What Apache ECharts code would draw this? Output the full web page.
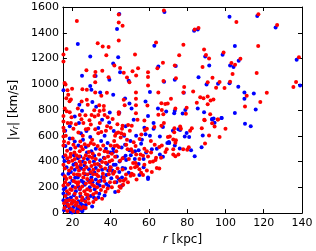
<!DOCTYPE html>
<html><head><meta charset="utf-8">
<script src="https://cdn.jsdelivr.net/npm/echarts@6/dist/echarts.min.js"></script>
<style>html,body{margin:0;padding:0;background:#fff}#c{width:316px;height:251px}</style>
</head><body><div id="c"></div>
<script>
const xTicks = [20, 40, 60, 80, 100, 120, 140];
const yTicks = [0, 200, 400, 600, 800, 1000, 1200, 1400, 1600];

const blueA = [[44.5,1545],[43.3,1430],[22.8,1312],[29.3,1215],[43.9,1210],[41.3,1161],[44.9,1094],[25,1067],[32.1,1064],[39.3,1035],[49.4,1027],[64.9,1139],[62.8,1299],[68.1,1561],[15.3,953],[29.9,958],[29.3,986],[34.5,936],[41.3,919],[60.5,941],[67.9,1020],[30.4,862],[32.4,825],[23.6,842],[47.5,889],[49.8,850],[58.2,867],[25,795],[39.5,781],[44.5,780],[50.9,813],[64.7,813],[69,788]];
const blueB = [[102.1,1524],[116.6,1531],[126.2,1440],[83.6,1415],[85.5,1425],[89.4,1215],[104.9,1297],[98.5,1230],[91.5,1146],[102.4,1146],[104.2,1134],[106.9,1183],[74,1141],[137.2,1190],[139,990],[85.9,1055],[73.5,1035],[90.1,998],[96.1,1005],[102.1,1008],[106.7,981],[78.2,934],[109.9,936],[114.8,929],[109.9,887],[115.8,805],[85.5,813],[79,800],[73.5,795],[73.2,776],[77.6,773],[88.8,783],[93,731],[94.3,701],[98,738],[104.9,778],[110.2,694]];
const blueC = [[97.9,739],[93.8,734],[93,726],[113.2,674],[79.7,622],[88.1,603],[81,590],[78.7,595],[76.3,645],[75.4,650],[72.5,640],[70.4,551],[73.5,524],[87.5,511],[82,487],[76.1,501],[83.9,442]];
const blueD = [[52,724],[59.5,754],[62.4,699],[62.4,655],[67.3,669],[41.6,637],[47.8,674],[57.6,662],[58.2,612],[60.5,600],[65.7,595],[69.6,545],[70.6,545],[53.3,600],[56.3,570],[55.9,538],[47.5,530],[41.3,475],[49.8,488],[52.7,480],[54.6,488],[58.5,470],[61.5,495],[64.1,500],[65.7,455],[67.3,438],[47.8,445],[46.8,430],[48.1,413],[44.6,401],[54.6,381],[57.2,356],[59.5,276],[59.5,264],[55,296],[49.4,314],[46.2,351],[47.5,346],[42.6,376],[41.3,314],[44.2,264],[45.9,276],[42.9,239],[45.9,214],[42.3,164]];
const blueE = [[21.2,749],[18.6,674],[23.4,699],[35.5,724],[39.2,704],[27.3,637],[33.5,660],[24.4,620],[36.8,600],[16.3,520],[18.6,580],[21.2,555],[23.1,525],[27,513],[32.2,500],[38.4,545],[41.3,500],[39.7,470],[29.9,480],[15.3,438],[17.9,400],[20.5,376],[22.8,425],[25.4,400],[28,420],[31.2,400],[34.5,410],[38.1,381],[41.6,376],[16.9,356],[21.2,336],[24.7,346],[28.6,341],[32.2,351],[35.5,336],[38.7,331],[15,301],[17.9,306],[19.9,251],[22.8,276],[24.7,251],[26.7,301],[29.9,276],[32.2,261],[34.8,251],[37.7,296],[40.3,271],[16.3,197],[20.2,207],[23.8,186],[26.4,221],[29,201],[31.6,186],[34.2,214],[37.7,226],[15.3,152],[17.3,112],[19.2,122],[20.8,139],[23.1,92],[26,102],[29.6,132],[33.5,122],[36.8,137],[16.6,52],[18.6,37],[20.5,47],[22.5,32],[24.4,72],[27,62],[30.3,52],[15.6,22],[18.9,12],[21.8,12],[23.8,27]];
const blueF = [[16.2,640],[19,500],[20.8,450],[24.1,440],[25.5,570],[27.6,470],[29.3,590],[31.4,445],[35,560],[37.5,500],[15.8,405],[19.2,320],[21.6,385],[23.8,360],[26.3,370],[29.3,310],[31.4,318],[33.8,375],[36.4,430],[39.5,355],[40.8,330],[16.4,270],[18.4,230],[21.4,275],[23.1,205],[25.7,240],[28.3,255],[30.5,240],[33.1,230],[35.5,280],[38.8,210],[15.5,185],[17.6,150],[19.8,80],[21.8,170],[24.2,130],[25.3,60],[27.7,120],[31.3,120],[34,150],[15.3,100],[17,80],[19.8,5],[22.4,55],[25.1,15],[26.3,35],[43.2,440],[45.7,510],[50.3,560],[44.5,320],[50.5,450],[52.6,420],[57.2,420],[47,600]];

const redA = [[44.2,1541],[44.2,1479],[46.2,1455],[44.2,1339],[22.3,1492],[16.9,1274],[15.3,1232],[15.3,1176],[33.2,1319],[35.8,1294],[38.9,1289],[37.7,1225],[52.7,1232],[41.9,1146],[44.9,1126],[46.8,1089],[51.4,1101],[54.3,1124],[53.3,1069],[35.6,1106],[32,1096],[31.5,1064],[27.3,1109],[38.9,1055],[48.5,1052],[49.8,1015],[59.5,1094],[59.5,1057],[67.3,1168],[64.4,1124],[63.7,1324],[67.8,1573],[15.9,1010],[16.4,998],[19.8,966],[17.4,953],[25.2,961],[27.5,958],[31.9,1015],[31.9,936],[38,934],[35.1,911],[59.5,990],[64.9,936],[67.6,1025],[17.8,919],[16.8,892],[19.2,882],[18.5,869],[27.5,879],[24.8,867],[34,837],[36.4,832],[28,842],[53.2,936],[53.2,887],[46.8,879],[47.3,837],[53.2,837],[59.2,835],[66.5,852],[68.5,847],[69.8,850],[16,813],[17,790],[18.6,783],[22.8,813],[31.4,798],[34.2,793],[36.4,800],[44.2,783],[53.2,776],[66.7,800],[67.5,768],[64.9,763]];
const redB = [[105.7,1484],[117.2,1544],[127,1460],[83.9,1425],[85.9,1437],[78,1307],[88.8,1270],[89.8,1228],[91.4,1200],[75.8,1225],[99,1247],[117.1,1297],[88,1134],[103.1,1166],[105,1151],[107.8,1198],[73.5,1146],[103.7,1079],[116.3,1087],[138.4,1210],[136.9,1018],[135.5,978],[74.1,1047],[93.2,1050],[90.7,1015],[96.9,1018],[102.4,1020],[95.1,973],[99.5,971],[78.4,978],[78,936],[83.1,944],[111.1,911],[121.6,934],[71.5,887],[86.8,899],[88.5,892],[90.7,906],[92.2,874],[93.7,882],[90.7,845],[85,857],[118.2,862],[110.2,827],[79.7,818],[73.8,813],[79.3,771],[92,768],[89.1,721],[96.1,726]];
const redC = [[88.9,724],[95.9,726],[93,697],[94.3,672],[100,655],[87.6,659],[82.4,659],[81.5,640],[91.4,603],[96.9,590],[76.3,672],[76.7,655],[73.3,659],[73.2,627],[70.9,595],[72.7,571],[74.1,566],[73.8,546],[89.3,541],[80.8,511],[80,492],[77.9,496],[72.7,496],[72.7,454],[75.4,454],[73.8,442]];
const redD = [[44.2,769],[54,724],[57.6,719],[62.8,669],[66.5,679],[67.8,699],[42.9,620],[42.3,600],[43.9,625],[45.9,655],[45.5,620],[45.2,587],[46.2,679],[49.1,684],[51,679],[57.9,645],[58.9,655],[69.9,590],[55.1,575],[52,550],[48.1,530],[44.2,513],[43.3,525],[42,520],[42.9,480],[42.3,438],[48.8,495],[50.7,495],[51.4,475],[53.3,455],[57.6,500],[58.9,480],[56.9,445],[55.6,455],[61.1,470],[65.4,513],[66.7,525],[68.6,475],[69.3,495],[66.3,430],[63.4,413],[62.1,400],[60.5,396],[63.7,430],[64.1,351],[65.4,346],[46.2,426],[44.9,406],[51.7,388],[53,388],[53.7,363],[52.7,356],[57.6,376],[58.9,331],[55.9,314],[56.9,296],[51,306],[52,296],[50.4,289],[46.2,338],[43.6,346],[42,321],[43.3,281],[44.9,252],[47.8,264],[46.8,252],[42,239],[44.6,207],[45.2,197]];
const redE = [[15.3,754],[15.3,712],[15.3,662],[15.6,637],[15.3,595],[19.5,744],[19.2,699],[20.5,655],[23.8,762],[24.7,729],[25.7,699],[30,762],[31.6,749],[29.6,687],[33.5,762],[36.8,762],[38.4,744],[38.1,674],[40,662],[27,650],[28.3,655],[31.9,650],[33.5,620],[35.1,630],[23.1,625],[25.4,600],[15.6,555],[15.3,525],[17.9,545],[20.5,530],[21.5,510],[24.1,555],[26.4,535],[28.3,525],[29.6,545],[30.3,570],[31.2,535],[33.2,520],[34.5,495],[36.1,525],[40,525],[36.8,480],[38.4,475],[23.8,480],[25.4,495],[28.6,475],[16.3,450],[17.3,425],[18.9,438],[19.9,406],[21.2,420],[22.1,450],[23.8,400],[24.4,376],[26,425],[27,450],[29,396],[30.3,430],[32.2,420],[33.2,381],[35.5,396],[36.8,425],[39.4,400],[40.7,410],[15.3,376],[16,346],[18.2,331],[19.5,351],[22.5,356],[23.4,331],[26,336],[27.3,356],[29.9,366],[30.9,336],[33.5,331],[37.1,346],[40,356],[16,286],[16.9,264],[18.9,276],[20.8,301],[21.8,239],[23.8,296],[25.7,276],[27.7,264],[29,239],[30.9,301],[33.5,286],[36.4,276],[39,301],[41.3,306],[15.3,214],[17.6,221],[18.9,186],[21.5,197],[22.8,221],[25.1,207],[27.7,186],[30.3,221],[32.9,201],[36.1,207],[38.4,191],[16.3,132],[18.2,152],[20.2,97],[22.1,117],[24.1,152],[25.1,122],[27,147],[28.3,112],[30.9,147],[32.2,107],[35.5,112],[15.6,77],[17.6,67],[19.5,72],[21.5,62],[23.4,52],[25.7,47],[28.6,77],[30.9,87],[17.3,17],[20.5,17]];
const redF = [[16.5,600],[17.2,485],[18,395],[19.1,460],[20.1,580],[21,470],[22,380],[22.6,300],[23.5,440],[24.6,515],[25.9,310],[26.6,390],[27.8,300],[28.8,440],[29.5,320],[30.6,460],[31.6,380],[32.6,300],[33.9,455],[34.8,360],[35.9,305],[37.4,390],[38.6,440],[39.6,330],[40.6,460],[41.8,560],[16.2,240],[17.1,170],[18.3,100],[19.6,180],[20.6,250],[21.2,150],[22.4,80],[23.2,240],[24,190],[24.9,100],[26.2,170],[27,230],[28,140],[29.3,175],[30.1,255],[31.3,210],[32.4,160],[33.8,245],[34.9,180],[36.7,250],[37.3,165],[39.6,240],[40.6,200],[15.8,40],[16.7,95],[18,55],[19.4,30],[21,90],[22.8,10],[24.6,35],[26.8,90],[26.9,40],[17.5,700],[21.8,690],[26.8,760],[28.9,720],[34.3,700],[37.5,640],[41,730],[43.5,690],[47,610],[50,640],[48.5,570],[53,520],[56,610],[61,560],[63,530],[49.5,420],[55,420],[59.5,440],[50.5,350],[55,340],[61.5,320],[48,300],[53.5,260],[44,170],[46.5,220],[49,240]];

const blue = [].concat(blueA, blueB, blueC, blueD, blueE, blueF);
const red = [].concat(redA, redB, redC, redD, redE, redF);

const FONT = 'DejaVu Sans';
const chart = echarts.init(document.getElementById('c'), null, {renderer: 'canvas'});
const tickStyle = {inside: true, length: 4, lineStyle: {color: '#000', width: 1}};
chart.setOption({
  animation: false,
  backgroundColor: '#fff',
  grid: {left: 46, right: 14, top: 7, bottom: 29, containLabel: false},
  xAxis: [{
    type: 'value', min: 15, max: 140, position: 'bottom',
    axisLine: {show: true, onZero: false, lineStyle: {color: '#000', width: 1}},
    axisTick: Object.assign({customValues: xTicks}, tickStyle),
    axisLabel: {customValues: xTicks, color: '#000', fontSize: 11, fontFamily: FONT, margin: 5, formatter: v => String(v)},
    splitLine: {show: false},
    name: '{i|r} [kpc]', nameLocation: 'middle', nameGap: 18,
    nameTextStyle: {color: '#000', fontSize: 12, fontFamily: FONT, rich: {i: {fontStyle: 'italic', fontSize: 12, fontFamily: FONT}}}
  }, {
    type: 'value', min: 15, max: 140, position: 'top',
    axisLine: {show: true, onZero: false, lineStyle: {color: '#000', width: 1}},
    axisTick: Object.assign({customValues: xTicks}, tickStyle),
    axisLabel: {show: false}, splitLine: {show: false}
  }],
  yAxis: [{
    type: 'value', min: 0, max: 1600, interval: 200, position: 'left',
    axisLine: {show: true, onZero: false, lineStyle: {color: '#000', width: 1}},
    axisTick: tickStyle,
    axisLabel: {color: '#000', fontSize: 11, fontFamily: FONT, margin: 4, formatter: v => String(v)},
    splitLine: {show: false},
    name: '|{i|v}{s|r}| [km/s]', nameLocation: 'middle', nameGap: 31, nameRotate: 90,
    nameTextStyle: {color: '#000', fontSize: 12, fontFamily: FONT,
      rich: {i: {fontStyle: 'italic', fontSize: 12, fontFamily: FONT}, s: {fontStyle: 'italic', fontSize: 8, fontFamily: FONT, verticalAlign: 'bottom'}}}
  }, {
    type: 'value', min: 0, max: 1600, interval: 200, position: 'right',
    axisLine: {show: true, onZero: false, lineStyle: {color: '#000', width: 1}},
    axisTick: tickStyle, axisLabel: {show: false}, splitLine: {show: false}
  }],
  series: [
    {type: 'scatter', data: blue, symbolSize: 4, itemStyle: {color: '#0000ff', opacity: 1}, xAxisIndex: 0, yAxisIndex: 0},
    {type: 'scatter', data: red, symbolSize: 4, itemStyle: {color: '#ff0000', opacity: 1}, xAxisIndex: 0, yAxisIndex: 0}
  ]
});
</script></body></html>
